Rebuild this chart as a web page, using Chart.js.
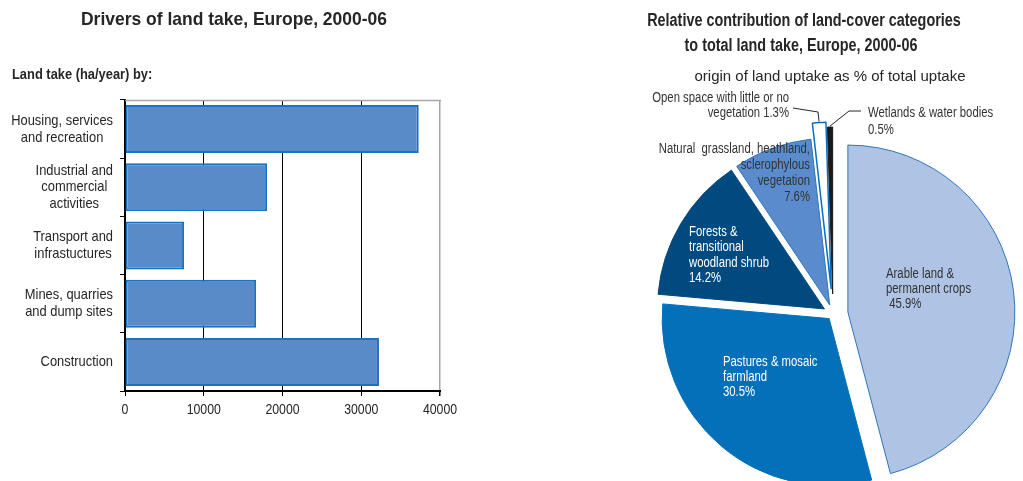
<!DOCTYPE html>
<html><head><meta charset="utf-8">
<script src="https://cdn.jsdelivr.net/npm/chart.js@4/dist/chart.umd.min.js"></script>
<style>
html,body{margin:0;padding:0;background:#fff;overflow:hidden;width:1023px;height:481px;position:relative;}
#c1{position:absolute;left:0;top:0;}
#c2{position:absolute;left:560px;top:0;}
</style></head><body>
<canvas id="c1" width="470" height="481"></canvas>
<canvas id="c2" width="463" height="540"></canvas>
<script>
// ---------- data ----------
const barCategories = [
  ['Housing, services', 'and recreation'],
  ['Industrial and', 'commercial', 'activities'],
  ['Transport and', 'infrastuctures'],
  ['Mines, quarries', 'and dump sites'],
  ['Construction']
];
const barValues = [37300, 18050, 7500, 16650, 32250];
const xTickValues = [0, 10000, 20000, 30000, 40000];

const pieLabels = [
  'Arable land & permanent crops',
  'Pastures & mosaic farmland',
  'Forests & transitional woodland shrub',
  'Natural grassland, heathland, sclerophylous vegetation',
  'Open space with little or no vegetation',
  'Wetlands & water bodies'
];
const pieValues = [45.9, 30.5, 14.2, 7.6, 1.3, 0.5];

// ---------- style ----------
const SANS = "'Liberation Sans',Arial,sans-serif";
const TXT = '#262626';
const pieFill = ['#afc3e4', '#0570ba', '#004a80', '#5a8ccd', '#ffffff', '#1a1a1a'];
const pieBorder = ['#2e75b6', '#0570ba', '#004a80', '#2e75b6', '#0a6fc0', '#1a1a1a'];
const pieBorderW = [1, 1, 1, 1, 1.5, 1];
const pieExplode = [15, 6, 10, 9.5, 25, 20];   // slice explosion in px
const PIE_R = 167;

// draw horizontally condensed text (narrow-font look)
function narrowText(ctx, text, x, y, align, font, sx) {
  ctx.save();
  ctx.font = font;
  ctx.textAlign = align;
  ctx.textBaseline = 'middle';
  ctx.translate(x, y);
  ctx.scale(sx, 1);
  ctx.fillText(text, 0, 0);
  ctx.restore();
}

// ---------- left: bar chart ----------
const leftDeco = {
  id: 'leftDeco',
  beforeDatasetsDraw(chart) {
    const {ctx, chartArea: a} = chart;
    ctx.save();
    ctx.strokeStyle = '#a6a6a6'; ctx.lineWidth = 1.5;
    ctx.beginPath(); ctx.moveTo(a.left, a.top + 0.5); ctx.lineTo(a.right + 1, a.top + 0.5); ctx.stroke();
    ctx.restore();
  },
  afterDraw(chart) {
    const {ctx} = chart;
    const ys = chart.scales.y, xs = chart.scales.x;
    ctx.save();
    ctx.fillStyle = TXT;
    const yFont = '15px ' + SANS, ySx = 0.86;
    ctx.font = yFont;
    chart.data.labels.forEach((lab, i) => {
      const lines = Array.isArray(lab) ? lab : [lab];
      const cy = ys.getPixelForValue(i);
      const w = Math.max(...lines.map(l => ctx.measureText(l).width)) * ySx;
      const cx = 113 - w / 2;
      const lh = 16.7;
      lines.forEach((l, j) => narrowText(ctx, l, cx, cy + (j - (lines.length - 1) / 2) * lh, 'center', yFont, ySx));
    });
    xTickValues.forEach(v => narrowText(ctx, String(v), xs.getPixelForValue(v), 410, 'center', '15px ' + SANS, 0.82));
    narrowText(ctx, 'Drivers of land take, Europe, 2000-06', 234, 20, 'center', 'bold 19px ' + SANS, 0.92);
    narrowText(ctx, 'Land take (ha/year) by:', 12, 75, 'left', 'bold 14px ' + SANS, 0.92);
    ctx.restore();
  }
};

new Chart(document.getElementById('c1'), {
  type: 'bar',
  data: {
    labels: barCategories,
    datasets: [{
      data: barValues,
      backgroundColor: '#5a8bc9',
      borderColor: '#1b72c2',
      borderWidth: 2,
      borderSkipped: false,
      barPercentage: 0.825,
      categoryPercentage: 1
    }]
  },
  options: {
    indexAxis: 'y',
    responsive: false,
    animation: false,
    events: [],
    layout: {padding: {top: 100, right: 30, left: 0, bottom: 0}},
    plugins: {legend: {display: false}, tooltip: {enabled: false}},
    scales: {
      x: {
        min: 0, max: 40000,
        afterBuildTicks: s => { s.ticks = xTickValues.map(v => ({value: v})); },
        afterFit: s => { s.height = 90; },
        ticks: {display: false},
        grid: {
          color: c => (c.index === 4 ? '#a6a6a6' : '#000000'),
          lineWidth: c => (c.index === 4 ? 1.5 : 1),
          tickColor: '#000000', tickLength: 5
        },
        border: {color: '#000000', width: 2}
      },
      y: {
        z: 1,
        afterFit: s => { s.width = 125; },
        ticks: {display: false},
        grid: {offset: true, drawOnChartArea: false, tickColor: '#000000', tickLength: 5, color: '#000000'},
        border: {color: '#000000', width: 2}
      }
    }
  },
  plugins: [leftDeco]
});

// ---------- right: pie chart ----------
const OX = 560;
const pieTextLayout = [
  {x: 886, y: 274, lh: 15, align: 'left', color: '#333333', lines: ['Arable land &', 'permanent crops', ' {v}%']},
  {x: 723, y: 362, lh: 15, align: 'left', color: '#ffffff', lines: ['Pastures & mosaic', 'farmland', '{v}%']},
  {x: 689, y: 232, lh: 15.5, align: 'left', color: '#ffffff', lines: ['Forests &', 'transitional', 'woodland shrub', '{v}%']},
  {x: 810, y: 149, lh: 16, align: 'right', color: '#333333', lines: ['Natural  grassland, heathland,', 'sclerophylous', 'vegetation', '{v}%']},
  {x: 789, y: 98, lh: 15, align: 'right', color: '#333333', lines: ['Open space with little or no', 'vegetation {v}%'], leader: [[793, 108], [818, 112]]},
  {x: 868, y: 113, lh: 17, align: 'left', color: '#333333', lines: ['Wetlands & water bodies', '{v}%'], leader: [[861, 111], [849, 111]]}
];

const pieDeco = {
  id: 'pieDeco',
  afterUpdate(chart) {
    // explode each slice by moving its centre outward along its mid-angle
    const meta = chart.getDatasetMeta(0);
    meta.data.forEach((el, i) => {
      const mid = (el.startAngle + el.endAngle) / 2;
      el.x += Math.cos(mid) * pieExplode[i];
      el.y += Math.sin(mid) * pieExplode[i];
    });
  },
  afterDraw(chart) {
    const {ctx} = chart;
    const meta = chart.getDatasetMeta(0);
    ctx.save();
    ctx.fillStyle = TXT;
    narrowText(ctx, 'Relative contribution of land-cover categories', 804 - OX, 21, 'center', 'bold 18px ' + SANS, 0.8);
    narrowText(ctx, 'to total land take, Europe, 2000-06', 801 - OX, 46, 'center', 'bold 18px ' + SANS, 0.8);
    narrowText(ctx, 'origin of land uptake as % of total uptake', 830 - OX, 77, 'center', '15px ' + SANS, 1);
    pieTextLayout.forEach((t, i) => {
      ctx.fillStyle = t.color;
      t.lines.forEach((l, j) => narrowText(ctx, l.replace('{v}', pieValues[i].toFixed(1)), t.x - OX, t.y + j * t.lh, t.align, '14px ' + SANS, 0.81));
      if (t.leader) {
        const el = meta.data[i];
        const mid = (el.startAngle + el.endAngle) / 2;
        const r = PIE_R + 1;
        ctx.strokeStyle = '#262626'; ctx.lineWidth = 1;
        ctx.beginPath();
        ctx.moveTo(t.leader[0][0] - OX, t.leader[0][1]);
        ctx.lineTo(t.leader[1][0] - OX, t.leader[1][1]);
        ctx.lineTo(el.x + Math.cos(mid) * r, el.y + Math.sin(mid) * r);
        ctx.stroke();
      }
    });
    ctx.restore();
  }
};

new Chart(document.getElementById('c2'), {
  type: 'pie',
  data: {
    labels: pieLabels,
    datasets: [{
      data: pieValues,
      backgroundColor: pieFill,
      borderColor: pieBorder,
      borderWidth: pieBorderW,
      offset: 0,
      radius: PIE_R
    }]
  },
  options: {
    responsive: false,
    animation: false,
    events: [],
    radius: PIE_R,
    layout: {padding: {left: 83, top: 88, right: 0, bottom: 0}},
    plugins: {legend: {display: false}, tooltip: {enabled: false}, title: {display: false}}
  },
  plugins: [pieDeco]
});
</script>
</body></html>
